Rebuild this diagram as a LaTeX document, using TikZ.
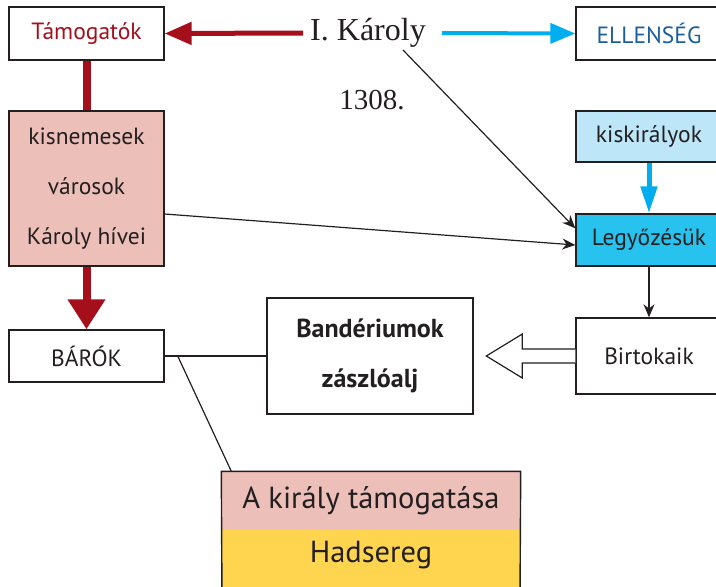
\documentclass[tikz,border=0pt]{standalone}
\usepackage{fontspec}
\setmainfont{PT Sans}
\newfontfamily\karolyfont{Liberation Serif}
\usepackage{tikz}
\usetikzlibrary{arrows.meta}

\definecolor{piros}{HTML}{A50F1C}
\definecolor{rozsa}{HTML}{ECBFB9}
\definecolor{egkek}{HTML}{00AEEF}
\definecolor{vilagoskek}{HTML}{BDE6F9}
\definecolor{kozepkek}{HTML}{27C3EE}
\definecolor{sotetkek}{HTML}{1B5E9A}
\definecolor{sarga}{HTML}{FFD54F}
\definecolor{szoveg}{HTML}{231F20}

\tikzset{
    doboz/.style={draw=szoveg,line width=1.4pt,inner sep=0pt,align=center,text=szoveg,font=\fontsize{23.5}{50}\selectfont},
    vekony/.style={draw=szoveg,line width=1.2pt},
    nyil/.style={vekony,-{Stealth[length=13pt,width=11pt]}}
}

\begin{document}
\begin{tikzpicture}[x=1pt,y=-1pt]
        \useasboundingbox (0,0) rectangle (716,587);
        \clip (0,0) rectangle (716,587);

        % bal oldal
        \node[doboz,minimum width=155,minimum height=53,text=piros] (tamogatok) at (86.5,33.5) {Támogatók};
        \node[doboz,minimum width=155,minimum height=155,fill=rozsa] (kisnemesek) at (86.5,188.5) {kisnemesek\\városok\\Károly hívei};
        \node[doboz,minimum width=155,minimum height=52] (barok) at (86.5,356) {BÁRÓK};
        \node[doboz,minimum width=206,minimum height=116,font=\bfseries\fontsize{26}{50}\selectfont] (banderium) at (370,356) {Bandériumok\\zászlóalj};

        % jobb oldal
        \node[doboz,minimum width=146,minimum height=53,text=sotetkek] (ellenseg) at (649,33.5) {ELLENSÉG};
        \node[doboz,minimum width=146,minimum height=51,fill=vilagoskek] (kiskiralyok) at (649,136.5) {kiskirályok};
        \node[doboz,minimum width=146,minimum height=52,fill=kozepkek] (legyozes) at (649,240) {Legyőzésük};
        \node[doboz,minimum width=146,minimum height=76] (birtokaik) at (649,356) {Birtokaik};

        % kozep
        \node[inner sep=4pt,text=szoveg,font=\karolyfont\fontsize{32}{34}\selectfont] (karoly) at (368,33) {I. Károly};
        \node[text=szoveg,font=\karolyfont\fontsize{29}{30}\selectfont] (evszam) at (372,100) {1308.};

        % also doboz
        \fill[sarga] (222,530) rectangle (520,600);
        \node[doboz,draw=none,minimum width=298,minimum height=58,fill=rozsa,font=\fontsize{30.5}{32}\selectfont] (tamogatas) at (371,501) {A király támogatása};
        \node[text=szoveg,font=\fontsize{30.5}{32}\selectfont] (hadsereg) at (371,555) {Hadsereg};
        \draw[szoveg,line width=1.4pt] (222,600) -- (tamogatas.north west) -- (tamogatas.north east) -- (520,600);

        % nyilak
        \draw[piros,line width=5pt,-{Triangle[length=27pt,width=22pt]}] ([xshift=-3pt]karoly.west) -- (tamogatok.east);
        \draw[egkek,line width=4pt,-{Triangle[length=25pt,width=20pt]}] ([xshift=12pt]karoly.east) -- (ellenseg.west);
        \draw[piros,line width=8pt] (tamogatok.south) -- (kisnemesek.north);
        \draw[piros,line width=8pt,-{Triangle[length=30pt,width=36pt]}] (kisnemesek.south) -- (barok.north);
        \draw[egkek,line width=5pt,-{Triangle[length=27pt,width=16pt]}] (kiskiralyok.south) -- (legyozes.north);

        \coordinate (k1) at (403,50);
        \draw[nyil] (k1) -- ([yshift=-15pt]legyozes.north west);
        \draw[nyil] ([yshift=-25.5pt]kisnemesek.east) -- ([yshift=-5pt]legyozes.west);
        \draw[nyil] (legyozes.south) -- (birtokaik.north);

        \draw[vekony] (barok.east) -- (banderium.west);
        \draw[vekony] ([xshift=13pt]barok.east) -- ([xshift=10pt]tamogatas.north west);

        % ures nyil
        \draw[vekony,fill=white] (birtokaik.west) ++(0,-7) -- ++(-53,0) -- ++(0,-15) -- ++(-36,22) -- ++(36,22) -- ++(0,-15) -- ++(53,0);
    \end{tikzpicture}
\end{document}
